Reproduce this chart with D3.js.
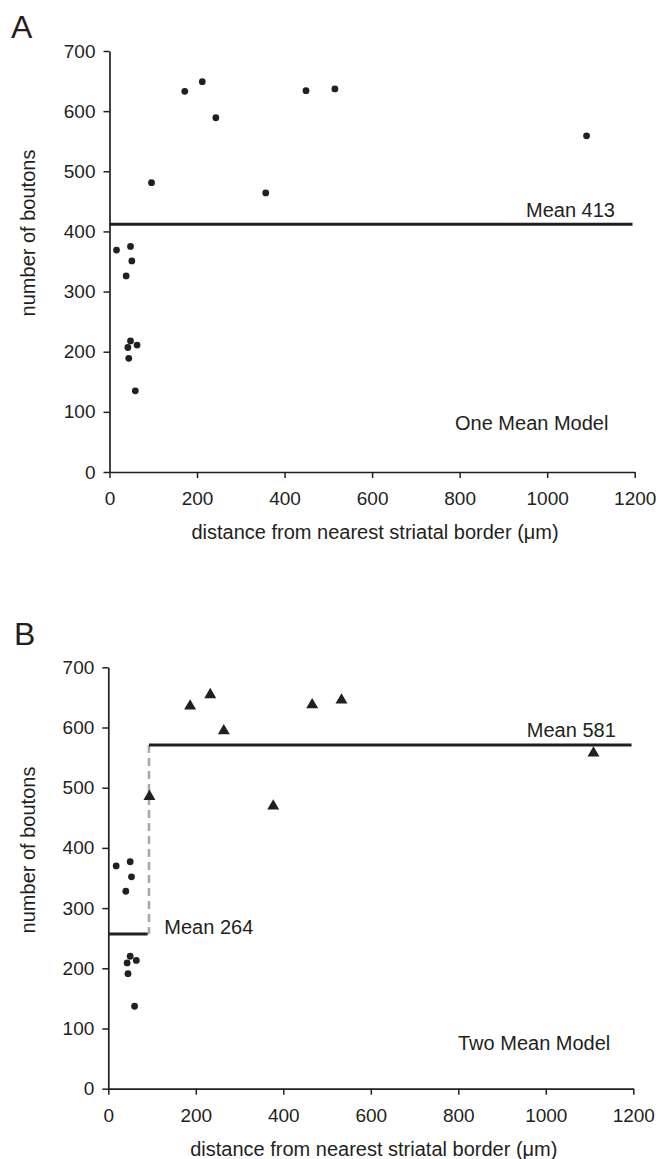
<!DOCTYPE html>
<html>
<head>
<meta charset="utf-8">
<script src="https://cdn.jsdelivr.net/npm/d3@7"></script>
<style>
  body { margin: 0; background: #fff; }
  text { font-family: "Liberation Sans", Arial, sans-serif; fill: #231f20; }
</style>
</head>
<body>
<div id="canvas"></div>
<script>
"use strict"

/* ---------- data ---------- */
// panel A: all cells (distance um, number of boutons)
let distA    = [16, 48, 51, 38, 96, 172, 212, 243, 357, 449, 515, 1090, 48, 42, 63, 44, 59];
let boutonsA = [369, 375, 351, 326, 481, 633, 649, 589, 464, 634, 637, 559, 218, 207, 211, 189, 135];
let meanA = 412;

// panel B: near-border cells (dots) and far cells (triangles)
let distNear    = [18, 50, 53, 40, 50, 43, 64, 45, 60];
let boutonsNear = [370, 377, 352, 328, 220, 209, 213, 191, 137];
let distFar     = [94, 187, 233, 264, 377, 466, 533, 1109];
let boutonsFar  = [488, 638, 657, 597, 472, 640, 648, 560];
let meanNear = 257, meanFar = 571, splitAt = 93;

let xTicks = [0, 200, 400, 600, 800, 1000, 1200];
let yTicks = [0, 100, 200, 300, 400, 500, 600, 700];

let ink = "#231f20";

let drawing = d3.select("#canvas")
  .append("svg")
  .attr("width", 660)
  .attr("height", 1159);

/* ---------- shared axis builder ---------- */
function drawAxes(x, y, left, bottom, titleMidY) {
  let gx = drawing.append("g")
    .attr("transform", "translate(0," + bottom + ")")
    .call(d3.axisBottom(x).tickValues(xTicks).tickFormat(d3.format("d"))
      .tickSize(6).tickSizeOuter(0).tickPadding(14));
  let gy = drawing.append("g")
    .attr("transform", "translate(" + left + ",0)")
    .call(d3.axisLeft(y).tickValues(yTicks).tickFormat(d3.format("d"))
      .tickSize(6).tickSizeOuter(0).tickPadding(8));
  [gx, gy].forEach(g => {
    g.attr("font-size", 19);
    g.select(".domain").attr("stroke", ink).attr("stroke-width", 1.7);
    g.selectAll(".tick line").attr("stroke", ink).attr("stroke-width", 1.5);
    g.selectAll(".tick text").attr("fill", ink)
      .style("font-family", "'Liberation Sans', Arial, sans-serif");
  });

  // axis titles
  drawing.append("text")
    .attr("x", (x.range()[0] + x.range()[1]) / 2 + 3)
    .attr("y", bottom + 67)
    .attr("text-anchor", "middle")
    .attr("font-size", 20)
    .text("distance from nearest striatal border (\u03bcm)");

  drawing.append("text")
    .attr("transform", "translate(35," + titleMidY + ") rotate(-90)")
    .attr("text-anchor", "middle")
    .attr("font-size", 20)
    .text("number of boutons");
}

/* ---------- panel A: one mean model ---------- */
let xA = d3.scaleLinear().domain([0, 1200]).range([109.5, 634.7]);
let yA = d3.scaleLinear().domain([0, 700]).range([472, 51]);

drawing.append("text").attr("x", 11).attr("y", 38)
  .attr("font-size", 32).text("A");

drawAxes(xA, yA, 109.5, 472, 233);

drawing.append("line")
  .attr("x1", xA(0)).attr("x2", xA(1195))
  .attr("y1", yA(meanA)).attr("y2", yA(meanA))
  .attr("stroke", ink).attr("stroke-width", 3);

drawing.append("text")
  .attr("x", xA(1155)).attr("y", yA(meanA) - 7)
  .attr("text-anchor", "end").attr("font-size", 20)
  .text("Mean 413");

drawing.append("g").selectAll("circle")
  .data(d3.range(distA.length))
  .join("circle")
  .attr("cx", i => xA(distA[i]))
  .attr("cy", i => yA(boutonsA[i]))
  .attr("r", 3.4)
  .attr("fill", ink);

drawing.append("text")
  .attr("x", 455).attr("y", 430)
  .attr("font-size", 20)
  .text("One Mean Model");

/* ---------- panel B: two mean model ---------- */
let xB = d3.scaleLinear().domain([0, 1200]).range([108.3, 633.3]);
let yB = d3.scaleLinear().domain([0, 700]).range([1088.7, 667.3]);

drawing.append("text").attr("x", 14).attr("y", 645)
  .attr("font-size", 32).text("B");

drawAxes(xB, yB, 108.3, 1088.7, 850);

// dashed step between the two means
drawing.append("line")
  .attr("x1", xB(splitAt)).attr("x2", xB(splitAt))
  .attr("y1", yB(meanFar)).attr("y2", yB(meanNear))
  .attr("stroke", "#a7a9ac").attr("stroke-width", 2.6)
  .attr("stroke-dasharray", "8,5");

drawing.append("line")
  .attr("x1", xB(0)).attr("x2", xB(90))
  .attr("y1", yB(meanNear)).attr("y2", yB(meanNear))
  .attr("stroke", ink).attr("stroke-width", 3);

drawing.append("line")
  .attr("x1", xB(splitAt)).attr("x2", xB(1196))
  .attr("y1", yB(meanFar)).attr("y2", yB(meanFar))
  .attr("stroke", ink).attr("stroke-width", 3);

drawing.append("text")
  .attr("x", xB(1160)).attr("y", yB(meanFar) - 8)
  .attr("text-anchor", "end").attr("font-size", 20)
  .text("Mean 581");

drawing.append("text")
  .attr("x", xB(128)).attr("y", yB(meanNear))
  .attr("font-size", 20)
  .text("Mean 264");

drawing.append("g").selectAll("circle")
  .data(d3.range(distNear.length))
  .join("circle")
  .attr("cx", i => xB(distNear[i]))
  .attr("cy", i => yB(boutonsNear[i]))
  .attr("r", 3.4)
  .attr("fill", ink);

let tri = d3.symbol().type(d3.symbolTriangle).size(62);
drawing.append("g").selectAll("path")
  .data(d3.range(distFar.length))
  .join("path")
  .attr("d", tri)
  .attr("transform", i => "translate(" + xB(distFar[i]) + "," + (yB(boutonsFar[i]) + 1.5) + ")")
  .attr("fill", ink);

drawing.append("text")
  .attr("x", 458).attr("y", 1050)
  .attr("font-size", 20)
  .text("Two Mean Model");
</script>
</body>
</html>
